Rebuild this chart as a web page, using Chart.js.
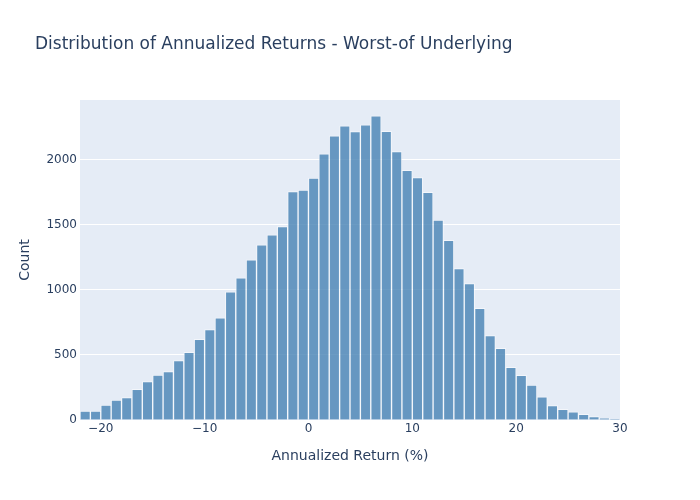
<!DOCTYPE html>
<html>
<head>
<meta charset="utf-8">
<script src="https://cdn.jsdelivr.net/npm/chart.js@4"></script>
<style>
  html, body { margin: 0; padding: 0; background: #fff; }
  #wrap { width: 700px; height: 500px; }
</style>
</head>
<body>
<div id="wrap"><canvas id="histChart" width="700" height="500"></canvas></div>
<script>
// bin centres (bin width 1, from -22 to 30)
const binCenters = [
  -21.5, -20.5, -19.5, -18.5, -17.5, -16.5, -15.5, -14.5, -13.5, -12.5,
  -11.5, -10.5, -9.5, -8.5, -7.5, -6.5, -5.5, -4.5, -3.5, -2.5,
  -1.5, -0.5, 0.5, 1.5, 2.5, 3.5, 4.5, 5.5, 6.5, 7.5,
  8.5, 9.5, 10.5, 11.5, 12.5, 13.5, 14.5, 15.5, 16.5, 17.5,
  18.5, 19.5, 20.5, 21.5, 22.5, 23.5, 24.5, 25.5, 26.5, 27.5,
  28.5, 29.5
]
const counts = [
  69, 69, 115, 154, 172, 236, 295, 346, 372, 456,
  520, 620, 695, 785, 985, 1092, 1231, 1346, 1423, 1487,
  1756, 1767, 1859, 2046, 2185, 2261, 2218, 2269, 2338, 2220,
  2064, 1920, 1864, 1751, 1537, 1382, 1164, 1049, 859, 649,
  551, 405, 344, 269, 179, 110, 82, 62, 44, 26,
  15, 8
]
const xTicks = [-20, -10, 0, 10, 20, 30]
const yTicks = [0, 500, 1000, 1500, 2000]

const fontFamily = '"DejaVu Sans", sans-serif'
const textColor = '#2a3f5f'

// plot background + title
const plotBg = {
  id: 'plotBg',
  beforeDraw(chart) {
    const { ctx, chartArea } = chart
    ctx.save()
    ctx.fillStyle = '#e5ecf6'
    ctx.fillRect(chartArea.left, chartArea.top, chartArea.right - chartArea.left, chartArea.bottom - chartArea.top)
    ctx.restore()
  },
  afterDraw(chart) {
    const ctx = chart.ctx
    ctx.save()
    ctx.fillStyle = textColor
    ctx.font = '17px ' + fontFamily
    ctx.textBaseline = 'middle'
    ctx.textAlign = 'left'
    ctx.fillText('Distribution of Annualized Returns - Worst-of Underlying', 35, 45)
    ctx.restore()
  }
}

const fmt = (v) => (v < 0 ? '\u2212' + Math.abs(v) : String(v))

const ctx = document.getElementById('histChart').getContext('2d')
new Chart(ctx, {
  type: 'bar',
  data: {
    datasets: [{
      label: 'Count',
      data: binCenters.map((x, i) => ({ x, y: counts[i] })),
      backgroundColor: 'rgba(70, 130, 180, 0.8)',
      borderColor: 'rgba(255, 255, 255, 0.55)',
      borderWidth: 1,
      barPercentage: 1,
      categoryPercentage: 1
    }]
  },
  options: {
    responsive: false,
    animation: false,
    layout: { padding: { top: 100, right: 80, left: 0, bottom: 0 } },
    plugins: {
      legend: { display: false },
      tooltip: { enabled: false }
    },
    scales: {
      x: {
        type: 'linear',
        offset: false,
        min: -22,
        max: 30,
        afterBuildTicks: (scale) => { scale.ticks = xTicks.map((v) => ({ value: v })) },
        afterFit: (scale) => { scale.height = 80 },
        grid: { display: false, drawTicks: false },
        border: { display: false },
        ticks: {
          color: textColor,
          font: { family: fontFamily, size: 12 },
          padding: 2,
          maxRotation: 0,
          callback: (v) => fmt(v)
        },
        title: {
          display: true,
          text: 'Annualized Return (%)',
          color: textColor,
          font: { family: fontFamily, size: 14 },
          padding: { top: 4, bottom: 35 }
        }
      },
      y: {
        min: 0,
        max: 2460,
        afterBuildTicks: (scale) => { scale.ticks = yTicks.map((v) => ({ value: v })) },
        afterFit: (scale) => { scale.width = 80 },
        grid: {
          color: '#ffffff',
          lineWidth: 1,
          drawTicks: false
        },
        border: { display: false },
        ticks: {
          color: textColor,
          font: { family: fontFamily, size: 12 },
          padding: 3,
          callback: (v) => String(v)
        },
        title: {
          display: true,
          text: 'Count',
          color: textColor,
          font: { family: fontFamily, size: 14 },
          padding: { bottom: 0, top: 17 }
        }
      }
    }
  },
  plugins: [plotBg]
})
</script>
</body>
</html>
